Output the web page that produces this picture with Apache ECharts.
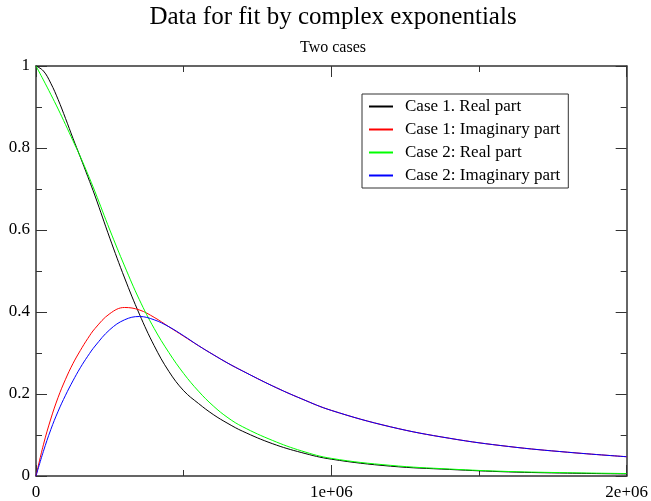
<!DOCTYPE html>
<html>
<head>
<meta charset="utf-8">
<script src="https://cdn.jsdelivr.net/npm/echarts@6/dist/echarts.min.js"></script>
<style>
html, body { margin: 0; padding: 0; background: #fff; }
#chart { width: 651px; height: 501px; }
</style>
</head>
<body>
<div id="chart"></div>
<script>
'use strict';

// data
var xVals = [0, 25e3, 50e3, 75e3, 100e3, 125e3, 150e3, 175e3, 200e3, 250e3, 300e3, 350e3, 400e3,
	450e3, 500e3, 550e3, 600e3, 650e3, 700e3, 800e3, 900e3, 1e6, 1.2e6, 1.4e6, 1.6e6, 1.8e6, 2e6];
var case1Real = [1.0, 0.988, 0.958, 0.918, 0.872, 0.824, 0.778, 0.731, 0.683, 0.580, 0.483, 0.395, 0.318,
	0.255, 0.208, 0.177, 0.150, 0.128, 0.109, 0.079, 0.057, 0.041, 0.024, 0.016, 0.010, 0.007, 0.005];
var case1Imag = [0, 0.076, 0.139, 0.192, 0.236, 0.274, 0.306, 0.335, 0.360, 0.396, 0.411, 0.405, 0.387,
	0.364, 0.341, 0.318, 0.296, 0.275, 0.256, 0.220, 0.188, 0.160, 0.120, 0.092, 0.072, 0.058, 0.047];
var case2Real = [1.0, 0.966, 0.931, 0.895, 0.857, 0.818, 0.779, 0.737, 0.693, 0.600, 0.512, 0.430, 0.360,
	0.301, 0.250, 0.207, 0.171, 0.142, 0.120, 0.087, 0.061, 0.043, 0.026, 0.017, 0.011, 0.008, 0.006];
var case2Imag = [0, 0.060, 0.113, 0.158, 0.197, 0.232, 0.264, 0.292, 0.317, 0.357, 0.381, 0.389, 0.381,
	0.364, 0.342, 0.318, 0.296, 0.275, 0.256, 0.220, 0.188, 0.160, 0.120, 0.092, 0.072, 0.058, 0.047];
var seriesNames = ['Case 1. Real part', 'Case 1: Imaginary part', 'Case 2: Real part', 'Case 2: Imaginary part'];
var seriesColors = ['#000000', '#ff0000', '#00ff00', '#0000ff'];
var xTickLabels = ['0', '1e+06', '2e+06'];

var serif = 'Liberation Serif';

function pairs(ys){
	return xVals.map(function(x, i){ return [x, ys[i]]; });
}

// axis with inward ticks; the top/right copies carry no labels
function makeAxis(pos, isX, showLabels){
	var axis = {
		type: 'value',
		position: pos,
		min: 0,
		max: isX ? 2e6 : 1,
		interval: isX ? 1e6 : 0.2,
		axisLine: { show: true, onZero: false, lineStyle: { color: '#333', width: 1.5 } },
		axisTick: { show: true, inside: true, length: 11, lineStyle: { color: '#333', width: 1 } },
		minorTick: { show: true, splitNumber: 2, length: 6, lineStyle: { color: '#333', width: 1 } },
		splitLine: { show: false },
		axisLabel: { show: showLabels, color: '#000', fontFamily: serif, fontSize: 17, margin: isX ? 8 : 6 }
	};
	if (isX) {
		axis.axisLabel.formatter = function(v){ return xTickLabels[Math.round(v / 1e6)]; };
	}
	return axis;
}

var chart = echarts.init(document.getElementById('chart'), null, { renderer: 'canvas' });

chart.setOption({
	animation: false,
	backgroundColor: '#fff',
	title: [{
		text: 'Data for fit by complex exponentials',
		left: 333, top: 5, padding: 0, textAlign: 'center',
		textStyle: { fontFamily: serif, fontSize: 25, fontWeight: 'normal', color: '#000' }
	}, {
		text: 'Two cases',
		left: 333, top: 40, padding: 0, textAlign: 'center',
		textStyle: { fontFamily: serif, fontSize: 16, fontWeight: 'normal', color: '#000' }
	}],
	legend: {
		orient: 'vertical',
		left: 362, top: 94,
		padding: [4, 8, 4, 6],
		itemWidth: 24, itemHeight: 17, itemGap: 6,
		borderColor: '#333', borderWidth: 1,
		backgroundColor: '#fff',
		itemStyle: { opacity: 0 },
		textStyle: { fontFamily: serif, fontSize: 17, color: '#000', padding: [0, 0, 0, 7], lineHeight: 17 },
		data: seriesNames
	},
	grid: { left: 36, right: 22, top: 66, bottom: 19, containLabel: false },
	xAxis: [makeAxis('bottom', true, true), makeAxis('top', true, false)],
	yAxis: [makeAxis('left', false, true), makeAxis('right', false, false)],
	series: [case1Real, case1Imag, case2Real, case2Imag].map(function(ys, i){
		return {
			name: seriesNames[i],
			type: 'line',
			data: pairs(ys),
			smooth: 0.4,
			symbol: 'none',
			lineStyle: { color: seriesColors[i], width: 1 },
			itemStyle: { color: seriesColors[i] }
		};
	})
});
</script>
</body>
</html>
